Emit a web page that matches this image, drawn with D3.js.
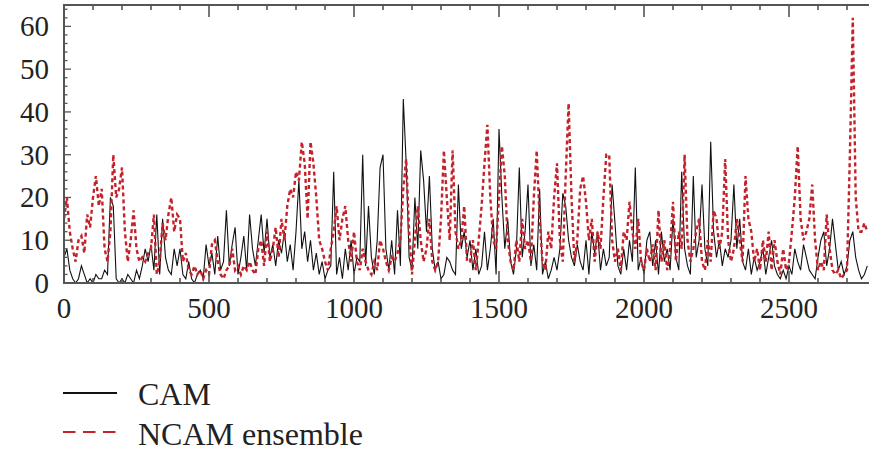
<!DOCTYPE html>
<html>
<head>
<meta charset="utf-8">
<script src="https://cdn.jsdelivr.net/npm/d3@7"></script>
<style>
  html, body { margin: 0; padding: 0; background: #fff; }
  svg { display: block; font-family: "Liberation Serif", "DejaVu Serif", serif; }
</style>
</head>
<body>
<div id="chart"></div>
<script>
const step = 10;

const camValues = [
  6, 8, 3, 1, 0, 1, 4, 2, 0, 1,
  0, 2, 1, 1, 3, 2, 20, 18, 1, 0,
  1, 0, 2, 1, 0, 3, 1, 4, 8, 5,
  9, 3, 16, 2, 15, 6, 3, 2, 8, 4,
  8, 2, 1, 5, 1, 0, 2, 3, 1, 9,
  4, 7, 2, 11, 3, 5, 17, 4, 9, 13,
  2, 6, 11, 3, 16, 8, 4, 10, 16, 7,
  15, 6, 9, 4, 10, 7, 12, 5, 9, 3,
  12, 24, 8, 12, 5, 10, 3, 7, 2, 5,
  1, 3, 4, 26, 2, 6, 1, 8, 3, 10,
  2, 6, 5, 30, 4, 18, 6, 2, 10, 27,
  30, 8, 3, 10, 2, 17, 4, 43, 28, 6,
  3, 20, 8, 31, 24, 12, 25, 8, 3, 5,
  1, 2, 6, 5, 3, 2, 23, 8, 12, 6,
  10, 3, 8, 2, 4, 12, 3, 8, 15, 2,
  36, 20, 8, 15, 5, 2, 8, 27, 6, 12,
  23, 4, 9, 3, 22, 2, 5, 1, 3, 6,
  3, 8, 21, 18, 10, 6, 4, 9, 5, 3,
  10, 2, 12, 7, 12, 3, 8, 4, 6, 23,
  14, 4, 2, 8, 3, 10, 5, 27, 3, 6,
  2, 10, 12, 4, 10, 2, 12, 5, 8, 3,
  15, 6, 3, 26, 8, 4, 2, 25, 6, 10,
  23, 8, 4, 33, 12, 6, 10, 4, 8, 6,
  10, 23, 8, 15, 5, 3, 8, 2, 6, 3,
  5, 8, 2, 6, 10, 4, 2, 1, 3, 1,
  4, 2, 8, 5, 3, 9, 6, 3, 2, 1,
  6, 10, 12, 4, 8, 15, 9, 3, 5, 2,
  4, 10, 12, 6, 3, 1, 2, 4
];

const ncamValues = [
  15, 20, 12, 8, 5, 10, 11, 7, 16, 13,
  20, 25, 18, 22, 8, 5, 12, 30, 20, 22,
  27, 12, 5, 10, 17, 8, 5, 6, 5, 7,
  8, 16, 2, 5, 14, 10, 16, 20, 12, 16,
  15, 5, 7, 3, 2, 4, 2, 3, 1, 3,
  2, 9, 10, 5, 2, 1, 3, 4, 8, 3,
  4, 2, 4, 3, 5, 3, 2, 8, 10, 4,
  12, 5, 8, 13, 6, 15, 10, 18, 22, 20,
  26, 24, 33, 28, 15, 33, 28, 20, 10, 8,
  5, 3, 8, 12, 18, 10, 15, 18, 10, 5,
  12, 5, 3, 8, 5, 3, 2, 5, 3, 10,
  8, 5, 3, 6, 5, 7, 10, 22, 29, 12,
  2, 10, 18, 10, 5, 8, 15, 5, 3, 5,
  15, 31, 20, 10, 31, 12, 8, 10, 18, 5,
  5, 10, 3, 10, 18, 28, 37, 20, 10, 8,
  20, 32, 25, 10, 5, 3, 10, 5, 15, 8,
  10, 5, 20, 31, 15, 5, 3, 12, 8, 20,
  28, 10, 5, 25, 42, 20, 5, 10, 22, 25,
  19, 10, 15, 5, 12, 8, 20, 30, 30, 10,
  5, 8, 3, 12, 10, 19, 12, 8, 15, 5,
  3, 8, 5, 9, 3, 17, 5, 10, 3, 8,
  19, 5, 12, 8, 30, 10, 5, 8, 12, 15,
  5, 3, 10, 5, 17, 15, 8, 12, 29, 10,
  5, 8, 15, 10, 5, 25, 15, 12, 5, 8,
  3, 10, 5, 12, 3, 10, 5, 2, 8, 3,
  5, 12, 20, 32, 15, 10, 12, 15, 23, 10,
  3, 5, 3, 16, 8, 3, 2, 3, 1, 2,
  3, 30, 62, 20, 12, 12, 14, 12
];

const xTicks = [0, 500, 1000, 1500, 2000, 2500];
const yTicks = [0, 10, 20, 30, 40, 50, 60];
const legendLabels = ["CAM", "NCAM ensemble"];

const W = 869, H = 452;
const plot = { left: 64, top: 5, right: 876, bottom: 283 };
const red = "#c4222b";

const svg = d3.select("#chart").append("svg")
  .attr("width", W)
  .attr("height", H);

const x = d3.scaleLinear().domain([0, 2800]).range([plot.left, plot.right]);
const y = d3.scaleLinear().domain([0, 65]).range([plot.bottom, plot.top]);

svg.append("defs").append("clipPath").attr("id", "clip")
  .append("rect")
  .attr("x", plot.left).attr("y", plot.top)
  .attr("width", plot.right - plot.left).attr("height", plot.bottom - plot.top);

const line = d3.line()
  .x((d, i) => x(i * step))
  .y(d => y(d));

const g = svg.append("g").attr("clip-path", "url(#clip)");

g.append("path")
  .datum(camValues)
  .attr("fill", "none")
  .attr("stroke", "#111")
  .attr("stroke-width", 1.1)
  .attr("d", line);

g.append("path")
  .datum(ncamValues)
  .attr("fill", "none")
  .attr("stroke", red)
  .attr("stroke-width", 2.4)
  .attr("stroke-dasharray", "4,3")
  .attr("d", line);

// frame
const frameColor = "#555";
svg.append("rect")
  .attr("x", plot.left).attr("y", plot.top)
  .attr("width", plot.right - plot.left).attr("height", plot.bottom - plot.top)
  .attr("fill", "none")
  .attr("stroke", frameColor)
  .attr("stroke-width", 2);

// inward ticks: top and bottom
const minorX = d3.range(0, 2801, 100);
[plot.top, plot.bottom].forEach((edge, k) => {
  const dir = k === 0 ? 1 : -1;
  svg.append("g").selectAll("line")
    .data(minorX)
    .join("line")
    .attr("x1", d => x(d)).attr("x2", d => x(d))
    .attr("y1", edge)
    .attr("y2", d => edge + dir * (d % 500 === 0 ? 12 : 5))
    .attr("stroke", frameColor)
    .attr("stroke-width", 1.6);
});

// inward ticks: left
const minorY = d3.range(0, 65, 2);
svg.append("g").selectAll("line")
  .data(minorY)
  .join("line")
  .attr("x1", plot.left)
  .attr("x2", d => plot.left + (d % 10 === 0 ? 7 : 3.5))
  .attr("y1", d => y(d)).attr("y2", d => y(d))
  .attr("stroke", frameColor)
  .attr("stroke-width", 1.3);

// tick labels
svg.append("g").selectAll("text")
  .data(xTicks)
  .join("text")
  .attr("x", d => x(d))
  .attr("y", 318)
  .attr("text-anchor", "middle")
  .attr("font-size", 29)
  .attr("fill", "#222")
  .text(d => d);

svg.append("g").selectAll("text")
  .data(yTicks)
  .join("text")
  .attr("x", 49)
  .attr("y", d => y(d) + 10)
  .attr("text-anchor", "end")
  .attr("font-size", 29)
  .attr("fill", "#222")
  .text(d => d);

// legend
const legend = svg.append("g");
legend.append("line")
  .attr("x1", 63).attr("x2", 117)
  .attr("y1", 393).attr("y2", 393)
  .attr("stroke", "#111").attr("stroke-width", 1.8);
legend.append("line")
  .attr("x1", 63).attr("x2", 117)
  .attr("y1", 432).attr("y2", 432)
  .attr("stroke", red).attr("stroke-width", 1.8)
  .attr("stroke-dasharray", "12.5,7.5");
legend.selectAll("text")
  .data(legendLabels)
  .join("text")
  .attr("x", 138)
  .attr("y", (d, i) => 405 + i * 40)
  .attr("font-size", 32)
  .attr("fill", "#222")
  .text(d => d);
</script>
</body>
</html>
